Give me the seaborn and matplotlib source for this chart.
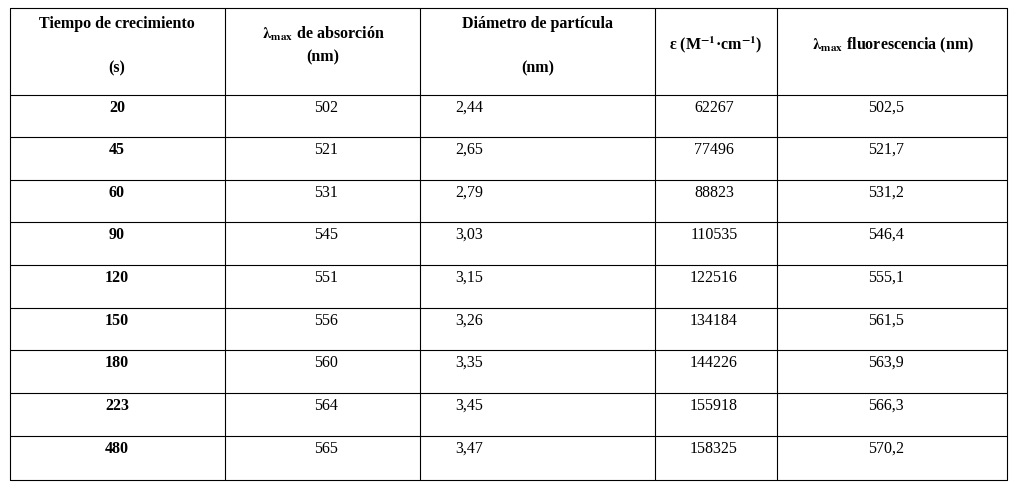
import matplotlib
matplotlib.use("Agg")
import matplotlib.pyplot as plt
import seaborn as sns

sns.set_theme(style="white")
plt.rcParams['font.family'] = ['Liberation Serif', 'DejaVu Serif']
plt.rcParams['mathtext.fontset'] = 'stix'
plt.rcParams['text.color'] = 'black'

# --- Data ---
tiempo = ["20", "45", "60", "90", "120", "150", "180", "223", "480"]
abs_max = ["502", "521", "531", "545", "551", "556", "560", "564", "565"]
diametro = ["2,44", "2,65", "2,79", "3,03", "3,15", "3,26", "3,35", "3,45", "3,47"]
epsilon = ["62267", "77496", "88823", "110535", "122516", "134184", "144226", "155918", "158325"]
fluor_max = ["502,5", "521,7", "531,2", "546,4", "555,1", "561,5", "563,9", "566,3", "570,2"]

# --- Layout (pixel coordinates) ---
W, H = 1015, 491
col_edges = [10, 225, 420, 655, 777, 1007]
row_edges = [8, 95, 137, 180, 222, 265, 308, 350, 393, 436, 480]

fig = plt.figure(figsize=(W / 100, H / 100), dpi=100)
ax = fig.add_axes([0, 0, 1, 1])
ax.set_xlim(0, W)
ax.set_ylim(H, 0)
ax.axis("off")

for x in col_edges:
    ax.plot([x, x], [row_edges[0], row_edges[-1]], color="black", lw=0.8)
for y in row_edges:
    ax.plot([col_edges[0], col_edges[-1]], [y, y], color="black", lw=0.8)

fs = 11.5
hdr = dict(fontsize=fs, fontweight="bold", ha="center", va="center", color="black")
ax.text(117, 24, "Tiempo de crecimiento", **hdr)
ax.text(117, 68, "(s)", **hdr)
ax.text(323, 34, r"$\mathbf{\lambda}_{\mathbf{max}}$ de absorción", **hdr)
ax.text(323, 57, "(nm)", **hdr)
ax.text(538, 24, "Diámetro de partícula", **hdr)
ax.text(538, 68, "(nm)", **hdr)
ax.text(716, 45, r"ε (M$^{\mathbf{-1}}$·cm$^{\mathbf{-1}}$)", **hdr)
ax.text(893, 45, r"$\mathbf{\lambda}_{\mathbf{max}}$ fluorescencia (nm)", **hdr)

cols = [(tiempo, 117, "bold"), (abs_max, 326, "normal"), (diametro, 469, "normal"),
        (epsilon, 714, "normal"), (fluor_max, 886, "normal")]
for i in range(len(tiempo)):
    y = row_edges[i + 1] + 13
    for values, x, weight in cols:
        ax.text(x, y, values[i], fontsize=fs, fontweight=weight, ha="center",
                va="center", color="black")

fig.savefig("out.png", dpi=100, facecolor="white")
